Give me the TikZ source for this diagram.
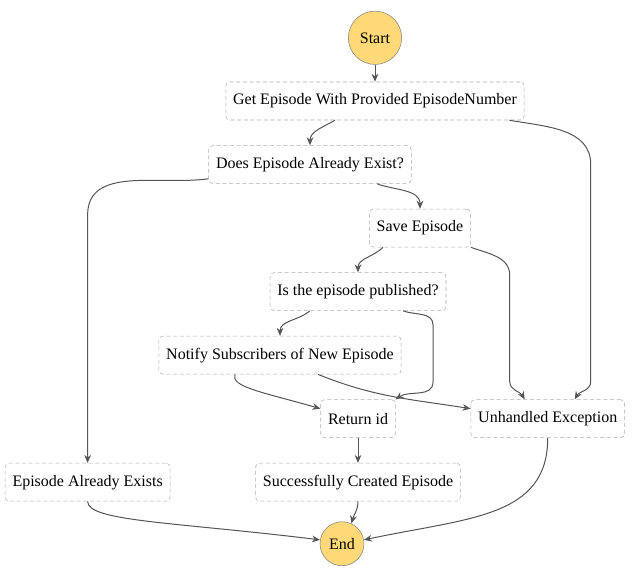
\documentclass[tikz,border=0pt]{standalone}
\usepackage{fontspec}
\setmainfont{LiberationSerif}[Extension=.ttf, UprightFont=*-Regular, BoldFont=*-Bold, ItalicFont=*-Italic, BoldItalicFont=*-BoldItalic]
\usetikzlibrary{shapes.geometric, arrows, arrows.meta, positioning, calc}
\definecolor{terminalColor}{RGB}{255, 217, 120}
\definecolor{borderColor}{RGB}{175, 175, 175}
\definecolor{ringColor}{RGB}{130, 130, 130}
\definecolor{lineColor}{RGB}{85, 85, 85}
\tikzstyle{task} = [rectangle, rounded corners=3pt, minimum height=28.5pt, inner xsep=5.5pt, text centered, draw=borderColor, dash pattern=on 3pt off 2pt, fill=white, font=\fontsize{12}{14}\selectfont]
\tikzstyle{terminal} = [circle, inner sep=1pt, draw=ringColor, fill=terminalColor, font=\fontsize{12}{14}\selectfont]
\tikzstyle{flow} = [draw=lineColor, line width=0.75pt, ->, >={Stealth[length=6pt, width=5pt]}]

\begin{document}
\begin{tikzpicture}[x=0.75pt, y=0.75pt, node distance=18.75pt]
			\useasboundingbox (0,0) rectangle (640,-577);
			\node (get) [task] at (375,-101) {Get Episode With Provided EpisodeNumber};
			\node (start) [terminal, minimum size=40pt, above=12.75pt of get] {Start};
			\node (does) [task, below=of get, xshift=-48.75pt] {Does Episode Already Exist?};
			\node (save) [task, below=of does, xshift=82.5pt] {Save Episode};
			\node (pub) [task, below=of save, xshift=-46.5pt] {Is the episode published?};
			\node (notify) [task, below=of pub, xshift=-58.5pt] {Notify Subscribers of New Episode};
			\node (ret) [task, below=of notify, xshift=58.5pt] {Return id};
			\node (unh) [task, right=56.25pt of ret] {Unhandled Exception};
			\node (succ) [task, below=of ret] {Successfully Created Episode};
			\node (exists) [task, left=63.75pt of succ] {Episode Already Exists};
			\node (end) [terminal, minimum size=33pt, below=15pt of succ, xshift=-12pt] {End};
			
			\draw[flow] (start) -- (get);
			\draw[flow] ($(get.south)+(-40,0)$) to[out=-150,in=90] (does.north);
			\draw[flow] ($(get.south east)+(-15,0)$) to[out=-10,in=90] ($(unh.north)+(43,235)$) -- ($(unh.north)+(43,18)$) to[out=-90,in=60] ($(unh.north)+(27,0)$);
			
			\draw[flow] ($(does.south)+(67,0)$) to[out=-20,in=90] (save.north);
			\draw[flow] ($(does.south west)+(0,5)$) to[out=188,in=90] ($(exists.north)+(0,248)$) -- (exists.north);
			
			\draw[flow] ($(save.south)+(-37,0)$) to[out=-135,in=90] (pub.north);
			\draw[flow] (save.south east) to[out=-20,in=90] ($(unh.north)+(-38,124)$) -- ($(unh.north)+(-38,18)$) to[out=-90,in=120] ($(unh.north)+(-23,0)$);
			
			\draw[flow] ($(pub.south)+(-48,0)$) to[out=-140,in=90] (notify.north);
			\draw[flow] ($(pub.south)+(45,0)$) to[out=-20,in=90] ($(pub.south)+(75,-14)$) -- ($(pub.south)+(75,-71)$) to[out=-90,in=35] (ret.north east);
			
			\draw[flow] ($(notify.south)+(-45,0)$) to[out=-110,in=164,out distance=10pt,in distance=45pt] ($(ret.west)+(0,10)$);
			\draw[flow] ($(notify.south)+(38,0)$) to[out=-22,in=171] ($(unh.west)+(0,10)$);
			
			\draw[flow] (ret) -- (succ);
			\draw[flow] (succ.south) to[out=-90,in=75] (end.65);
			\draw[flow] (exists.south) to[out=-90,in=173,out distance=15pt,in distance=110pt] (end.170);
			\draw[flow] (unh.south) to[out=-90,in=12,out distance=60pt,in distance=80pt] (end.10);
\end{tikzpicture}
\end{document}
